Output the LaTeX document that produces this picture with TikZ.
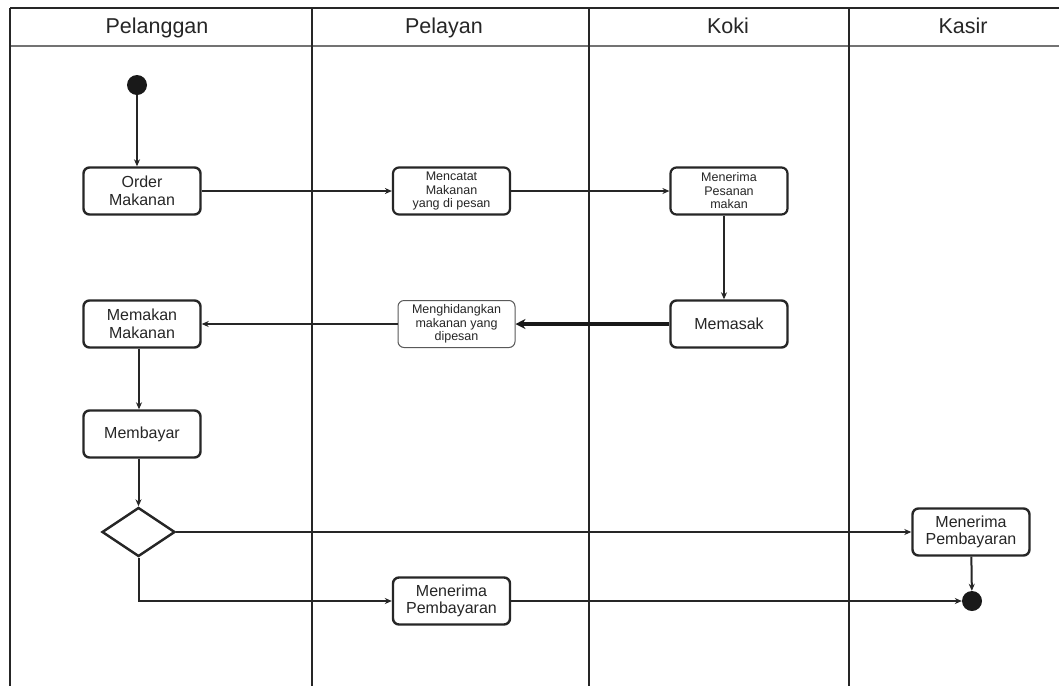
\documentclass[tikz,border=0pt]{standalone}
\usepackage{fontspec}
\setmainfont{Liberation Sans}
\usetikzlibrary{arrows.meta,shapes.geometric}
\begin{document}
\begin{tikzpicture}[x=1pt,y=-1pt,
 lane/.style={line width=2.4pt, draw=black!85},
 act/.style={draw=black!85, line width=2.4pt, rounded corners=6pt, fill=white,
   minimum width=117pt, minimum height=47pt, align=center, inner sep=0pt,
   font=\fontsize{16}{17.5}\selectfont, text=black!85},
 actsm/.style={act, line width=2.2pt, font=\fontsize{12.5}{13.5}\selectfont},
 actthin/.style={actsm, line width=1pt, draw=black!65},
 flow/.style={draw=black!85, line width=2pt, -{Stealth[length=7pt,width=6pt]}},
 heavyflow/.style={draw=black!90, line width=3.8pt, -{Stealth[length=10pt,width=10pt]}},
 dot/.style={circle, fill=black!90, minimum size=20pt, inner sep=0pt},
 decision/.style={diamond, draw=black!85, line width=2.4pt, fill=white,
   minimum width=73pt, minimum height=49pt, inner sep=0pt},
 hdr/.style={font=\fontsize{21.5}{24}\selectfont, text=black!85, anchor=base}
]
\useasboundingbox (0,0) rectangle (1059,686);
\fill[white] (0,0) rectangle (1059,686);
% frame and lanes
\draw[line width=2.4pt, draw=black!85] (10,8) -- (1059,8);
\draw[line width=1.6pt, draw=black!55] (10,46) -- (1059,46);
\foreach \x in {10,312,589,849} \draw[lane] (\x,8) -- (\x,686);
% headers
\node[hdr] (h1) at (157,33) {Pelanggan};
\node[hdr] (h2) at (444,33) {Pelayan};
\node[hdr] (h3) at (728,33) {Koki};
\node[hdr] (h4) at (963,33) {Kasir};
% nodes
\node[dot] (start) at (137,85) {};
\node[act] (order) at (142,191) {Order\\Makanan};
\node[actsm] (catat) at (451.5,191) {Mencatat\\Makanan\\yang di pesan};
\node[actsm] (terima) at (729,191) {Menerima\\Pesanan\\makan};
\node[act] (masak) at (729,324) {Memasak};
\node[actthin] (hidang) at (456.5,324) {Menghidangkan\\makanan yang\\dipesan};
\node[act] (makan) at (142,324) {Memakan\\Makanan};
\node[act] (bayar) at (142,434) {Membayar};
\node[decision] (dec) at (138.5,532) {};
\node[act] (pb1) at (451.5,601) {Menerima\\Pembayaran};
\node[act] (pb2) at (971,532) {Menerima\\Pembayaran};
\node[dot] (end) at (972,601) {};
% connectors
\draw[flow] (start) -- (start |- order.north);
\draw[flow] (order) -- (catat);
\draw[flow] (catat) -- (terima);
\draw[flow] ([xshift=-5pt]terima.south) -- ([xshift=-5pt]masak.north);
\draw[heavyflow] (masak) -- (hidang);
\draw[flow] (hidang) -- (makan);
\draw[flow] ([xshift=-3pt]makan.south) -- ([xshift=-3pt]bayar.north);
\draw[flow] (dec.north |- bayar.south) -- (dec.north);
\draw[flow] (dec.east) -- (pb2.west);
\draw[flow] (dec.south) |- (pb1.west);
\draw[flow] (pb1) -- (end);
\draw[flow] (pb2) -- (end);
\end{tikzpicture}
\end{document}
